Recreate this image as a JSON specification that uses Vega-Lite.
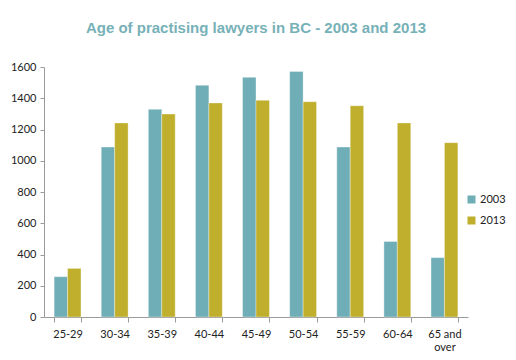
{
  "$schema": "https://vega.github.io/schema/vega-lite/v6.json",
  "autosize": {"type": "none"},
  "padding": {"left": 44, "top": 67, "right": 48, "bottom": 43},
  "width": 424,
  "height": 250,
  "background": "white",
  "title": {
    "text": "Age of practising lawyers in BC - 2003 and 2013",
    "font": "Liberation Sans",
    "fontSize": 15,
    "fontWeight": "bold",
    "color": "#77B1B8",
    "anchor": "middle",
    "offset": 25
  },
  "data": {
    "values": [
      {"age": "25-29", "year": "2003", "count": 258},
      {"age": "25-29", "year": "2013", "count": 311},
      {"age": "30-34", "year": "2003", "count": 1088},
      {"age": "30-34", "year": "2013", "count": 1242},
      {"age": "35-39", "year": "2003", "count": 1329},
      {"age": "35-39", "year": "2013", "count": 1299},
      {"age": "40-44", "year": "2003", "count": 1483},
      {"age": "40-44", "year": "2013", "count": 1370},
      {"age": "45-49", "year": "2003", "count": 1534},
      {"age": "45-49", "year": "2013", "count": 1387},
      {"age": "50-54", "year": "2003", "count": 1572},
      {"age": "50-54", "year": "2013", "count": 1378},
      {"age": "55-59", "year": "2003", "count": 1088},
      {"age": "55-59", "year": "2013", "count": 1352},
      {"age": "60-64", "year": "2003", "count": 484},
      {"age": "60-64", "year": "2013", "count": 1242},
      {"age": "65 and over", "year": "2003", "count": 380},
      {"age": "65 and over", "year": "2013", "count": 1116}
    ]
  },
  "mark": {"type": "bar", "stroke": "#ffffff", "strokeOpacity": 0.35, "strokeWidth": 1},
  "encoding": {
    "x": {
      "field": "age",
      "type": "nominal",
      "sort": null,
      "title": null,
      "scale": {"paddingInner": 0.43, "paddingOuter": 0.215},
      "axis": {
        "labelAngle": 0,
        "labelFont": "Lato",
        "labelFontSize": 11,
        "labelColor": "#222222",
        "labelPadding": 6,
        "labelLineHeight": 13,
        "tickBand": "extent",
        "tickSize": 5,
        "tickColor": "#9a9a9a",
        "domainColor": "#9a9a9a",
        "labelExpr": "datum.value == '65 and over' ? ['65 and', 'over'] : datum.value"
      }
    },
    "xOffset": {"field": "year", "type": "nominal", "scale": {"paddingInner": 0}},
    "y": {
      "field": "count",
      "type": "quantitative",
      "title": null,
      "scale": {"domain": [0, 1600]},
      "axis": {
        "values": [0, 200, 400, 600, 800, 1000, 1200, 1400, 1600],
        "format": "d",
        "grid": false,
        "labelFont": "Lato",
        "labelFontSize": 11,
        "labelColor": "#222222",
        "labelPadding": 4,
        "tickSize": 4,
        "tickColor": "#9a9a9a",
        "domainColor": "#9a9a9a"
      }
    },
    "color": {
      "field": "year",
      "type": "nominal",
      "title": null,
      "scale": {"domain": ["2003", "2013"], "range": ["#6FAEB6", "#BFAF2C"]},
      "legend": {
        "orient": "none",
        "legendX": 422,
        "legendY": 127,
        "symbolType": "square",
        "symbolSize": 64,
        "symbolStrokeWidth": 0,
        "labelFont": "Lato",
        "labelFontSize": 11,
        "labelColor": "#222222",
        "rowPadding": 9,
        "labelOffset": 3
      }
    }
  },
  "config": {"view": {"stroke": null}}
}
